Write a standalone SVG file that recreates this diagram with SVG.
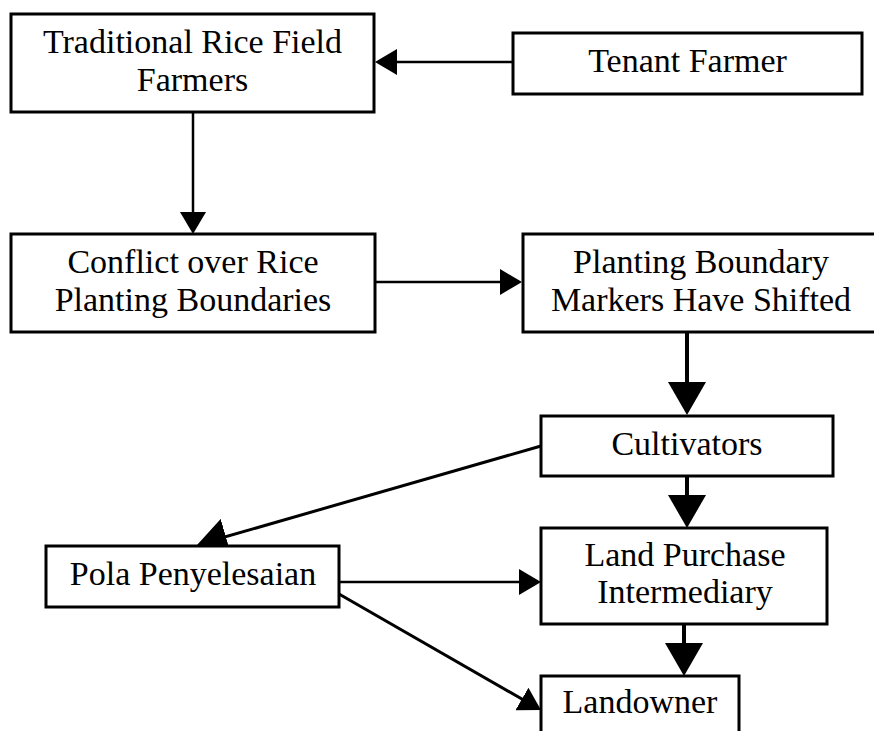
<svg xmlns="http://www.w3.org/2000/svg" width="874" height="731" viewBox="0 0 874 731">
<style>
.box{fill:#fff;stroke:#000;stroke-width:3}
.t{font-family:"Liberation Serif","Times New Roman",serif;font-size:34px;fill:#000;text-anchor:middle}
.c{fill:none;stroke:#000}
.thin{stroke-width:2.5}
.mid{stroke-width:3}
.thick{stroke-width:4}
</style>
<defs>
<marker id="sm" markerUnits="userSpaceOnUse" markerWidth="22" markerHeight="26" refX="16" refY="13" orient="auto" viewBox="0 0 22 26">
<path d="M0,0 L22,13 L0,26 Z" fill="#000"/>
</marker>
<marker id="md" markerUnits="userSpaceOnUse" markerWidth="30" markerHeight="37" refX="24" refY="18.5" orient="auto" viewBox="0 0 30 37">
<path d="M0,0 L30,18.5 L0,37 Z" fill="#000"/>
</marker>
<marker id="bg" markerUnits="userSpaceOnUse" markerWidth="33" markerHeight="38" refX="27" refY="19" orient="auto" viewBox="0 0 33 38">
<path d="M0,0 L33,19 L0,38 Z" fill="#000"/>
</marker>
</defs>
<rect width="874" height="731" fill="#fff"/>
<g id="connectors">
<line class="c thin" x1="513" y1="62" x2="381" y2="62" marker-end="url(#sm)"/>
<line class="c thin" x1="193" y1="112" x2="193" y2="228" marker-end="url(#sm)"/>
<line class="c thin" x1="375" y1="282" x2="516" y2="282" marker-end="url(#sm)"/>
<line class="c thick" x1="687" y1="332" x2="687" y2="409" marker-end="url(#bg)"/>
<line class="c thick" x1="687" y1="476" x2="687" y2="522" marker-end="url(#bg)"/>
<line class="c thick" x1="684" y1="624" x2="684" y2="670" marker-end="url(#bg)"/>
<line class="c thin" x1="339" y1="582" x2="535" y2="582" marker-end="url(#sm)"/>
<line class="c mid" x1="541" y1="446" x2="202.8" y2="543.3" marker-end="url(#md)"/>
<line class="c mid" x1="339" y1="594" x2="535.8" y2="707" marker-end="url(#sm)"/>
</g>
<g id="traditional">
<rect class="box" x="11" y="14" width="363" height="98"/>
<text class="t" x="192.5" y="53">Traditional Rice Field</text>
<text class="t" x="192.5" y="91">Farmers</text>
</g>
<g id="tenant">
<rect class="box" x="513" y="33" width="349" height="61"/>
<text class="t" x="687.5" y="72">Tenant Farmer</text>
</g>
<g id="conflict">
<rect class="box" x="11" y="234" width="364" height="98"/>
<text class="t" x="193" y="273">Conflict over Rice</text>
<text class="t" x="193" y="311">Planting Boundaries</text>
</g>
<g id="markers">
<rect class="box" x="523" y="234" width="357" height="98"/>
<text class="t" x="701" y="273">Planting Boundary</text>
<text class="t" x="701" y="311">Markers Have Shifted</text>
</g>
<g id="cultivators">
<rect class="box" x="541" y="416" width="292" height="60"/>
<text class="t" x="687" y="455">Cultivators</text>
</g>
<g id="pola">
<rect class="box" x="46" y="546" width="293" height="61"/>
<text class="t" x="193" y="585">Pola Penyelesaian</text>
</g>
<g id="intermediary">
<rect class="box" x="541" y="528" width="286" height="96"/>
<text class="t" x="685" y="566">Land Purchase</text>
<text class="t" x="685" y="603">Intermediary</text>
</g>
<g id="landowner">
<rect class="box" x="541" y="676" width="198" height="80"/>
<text class="t" x="640" y="713">Landowner</text>
</g>
</svg>
